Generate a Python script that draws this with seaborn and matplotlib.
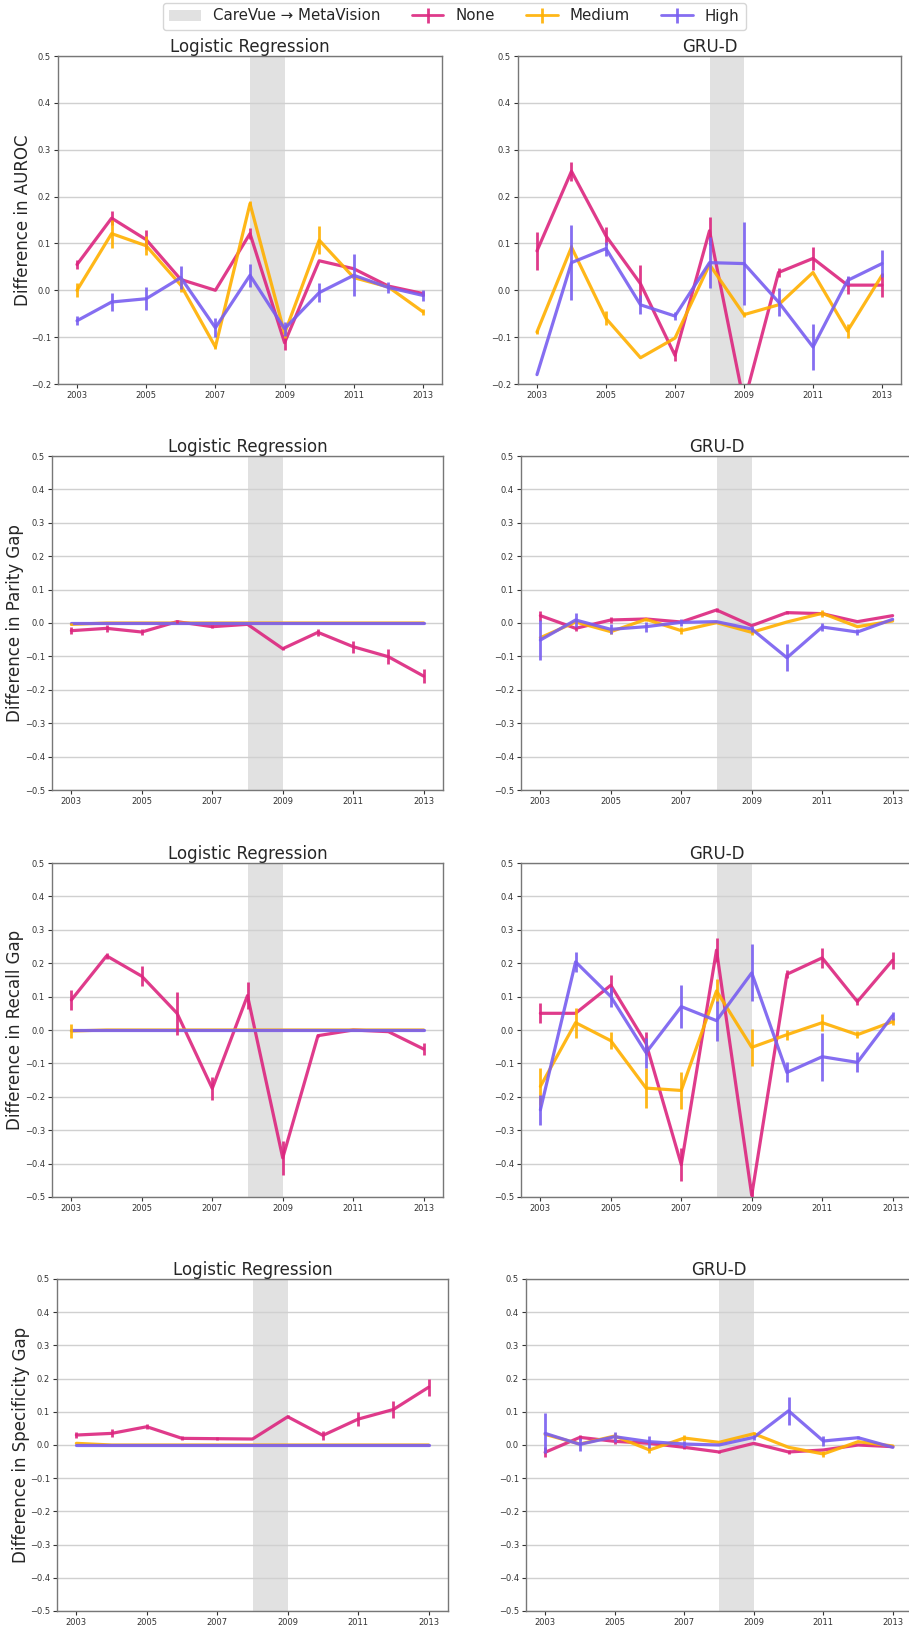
import numpy as np
import pandas as pd
import matplotlib
matplotlib.use("Agg")
import matplotlib.pyplot as plt
import seaborn as sns

sns.set_style("white")
plt.rcParams['font.family'] = ['DejaVu Sans']

years = list(range(2003, 2014))
groups = ["None", "Medium", "High"]
colors = {"None": "#DC267F", "Medium": "#FFB000", "High": "#785EF0"}
models = ["Logistic Regression", "GRU-D"]
metrics = ["Difference in AUROC", "Difference in Parity Gap",
           "Difference in Recall Gap", "Difference in Specificity Gap"]

# ---- AUROC ----
auroc_lr_none = [0.055, 0.154, 0.108, 0.023, 0.0, 0.121, -0.112, 0.063, 0.046, 0.009, -0.007]
auroc_lr_none_err = [0.01, 0.015, 0.02, 0.0, 0.0, 0.012, 0.015, 0.0, 0.0, 0.0, 0.005]
auroc_lr_med = [0.0, 0.121, 0.095, 0.011, -0.121, 0.185, -0.092, 0.107, 0.027, 0.007, -0.046]
auroc_lr_med_err = [0.015, 0.03, 0.02, 0.015, 0.005, 0.005, 0.01, 0.03, 0.0, 0.0, 0.006]
auroc_lr_high = [-0.065, -0.025, -0.018, 0.027, -0.08, 0.032, -0.082, -0.005, 0.032, 0.006, -0.011]
auroc_lr_high_err = [0.01, 0.02, 0.025, 0.025, 0.02, 0.025, 0.015, 0.02, 0.045, 0.012, 0.012]

auroc_gru_none = [0.084, 0.254, 0.116, 0.014, -0.139, 0.127, -0.24, 0.038, 0.068, 0.011, 0.011]
auroc_gru_none_err = [0.04, 0.02, 0.02, 0.04, 0.012, 0.03, 0.0, 0.01, 0.025, 0.018, 0.025]
auroc_gru_med = [-0.089, 0.092, -0.06, -0.144, -0.102, 0.055, -0.052, -0.031, 0.038, -0.087, 0.032]
auroc_gru_med_err = [0.005, 0.005, 0.015, 0.0, 0.0, 0.0, 0.005, 0.0, 0.0, 0.015, 0.0]
auroc_gru_high = [-0.18, 0.059, 0.089, -0.031, -0.055, 0.059, 0.057, -0.025, -0.121, 0.021, 0.057]
auroc_gru_high_err = [0.0, 0.08, 0.015, 0.02, 0.008, 0.055, 0.088, 0.03, 0.05, 0.01, 0.028]

# ---- Parity gap ----
parity_lr_none = [-0.023, -0.016, -0.027, 0.004, -0.011, -0.004, -0.077, -0.028, -0.071, -0.101, -0.159]
parity_lr_none_err = [0.01, 0.01, 0.008, 0.005, 0.005, 0.0, 0.005, 0.01, 0.018, 0.022, 0.022]
parity_lr_med = [-0.004, 0, 0, 0, 0, 0, 0, 0, 0, 0, 0]
parity_lr_med_err = [0.003, 0, 0, 0, 0, 0, 0, 0, 0, 0, 0]
parity_lr_high = [0, 0, 0, 0, 0, 0, 0, 0, 0, 0, 0]
parity_lr_high_err = [0, 0, 0, 0, 0, 0, 0, 0, 0, 0, 0]

parity_gru_none = [0.022, -0.016, 0.009, 0.012, 0.003, 0.039, -0.008, 0.031, 0.028, 0.004, 0.022]
parity_gru_none_err = [0.015, 0.008, 0.008, 0.0, 0.0, 0.005, 0.0, 0.005, 0.005, 0.0, 0.0]
parity_gru_med = [-0.044, 0.003, -0.026, 0.011, -0.023, 0.001, -0.028, 0.003, 0.029, -0.011, 0.006]
parity_gru_med_err = [0.0, 0.0, 0.008, 0.005, 0.01, 0.0, 0.008, 0.0, 0.01, 0.0, 0.0]
parity_gru_high = [-0.051, 0.009, -0.019, -0.011, 0.002, 0.004, -0.018, -0.104, -0.012, -0.027, 0.011]
parity_gru_high_err = [0.06, 0.02, 0.015, 0.015, 0.01, 0.0, 0.008, 0.04, 0.012, 0.008, 0.0]

# ---- Recall gap ----
recall_lr_none = [0.09, 0.222, 0.161, 0.05, -0.175, 0.103, -0.383, -0.017, 0.0, -0.005, -0.057]
recall_lr_none_err = [0.03, 0.01, 0.03, 0.065, 0.035, 0.04, 0.05, 0.005, 0.0, 0.0, 0.017]
recall_lr_med = [-0.003, 0, 0, 0, 0, 0, 0, 0, 0, 0, 0]
recall_lr_med_err = [0.02, 0, 0, 0, 0, 0, 0, 0, 0, 0, 0]
recall_lr_high = [0, 0, 0, 0, 0, 0, 0, 0, 0, 0, 0]
recall_lr_high_err = [0, 0, 0, 0, 0, 0, 0, 0, 0, 0, 0]

recall_gru_none = [0.05, 0.05, 0.134, -0.04, -0.403, 0.239, -0.495, 0.167, 0.216, 0.085, 0.209]
recall_gru_none_err = [0.03, 0.0, 0.03, 0.035, 0.05, 0.035, 0.02, 0.012, 0.03, 0.01, 0.025]
recall_gru_med = [-0.169, 0.022, -0.032, -0.174, -0.181, 0.117, -0.052, -0.014, 0.022, -0.014, 0.025]
recall_gru_med_err = [0.055, 0.045, 0.025, 0.06, 0.055, 0.035, 0.055, 0.015, 0.025, 0.01, 0.01]
recall_gru_high = [-0.239, 0.204, 0.1, -0.068, 0.07, 0.028, 0.171, -0.127, -0.08, -0.097, 0.043]
recall_gru_high_err = [0.045, 0.03, 0.03, 0.045, 0.065, 0.06, 0.085, 0.03, 0.072, 0.03, 0.012]

# ---- Specificity gap ----
spec_lr_none = [0.03, 0.035, 0.055, 0.02, 0.019, 0.018, 0.085, 0.029, 0.078, 0.107, 0.174]
spec_lr_none_err = [0.01, 0.012, 0.007, 0.006, 0.005, 0.0, 0.005, 0.013, 0.02, 0.025, 0.025]
spec_lr_med = [0.005, 0, 0, 0, 0, 0, 0, 0, 0, 0, 0]
spec_lr_med_err = [0, 0, 0, 0, 0, 0, 0, 0, 0, 0, 0]
spec_lr_high = [0, 0, 0, 0, 0, 0, 0, 0, 0, 0, 0]
spec_lr_high_err = [0, 0, 0, 0, 0, 0, 0, 0, 0, 0, 0]

spec_gru_none = [-0.022, 0.023, 0.011, 0.005, -0.007, -0.021, 0.005, -0.021, -0.015, 0.0, -0.005]
spec_gru_none_err = [0.015, 0.008, 0.008, 0.0, 0.005, 0.004, 0.0, 0.006, 0.0, 0.0, 0.0]
spec_gru_med = [0.032, 0.003, 0.027, -0.015, 0.021, 0.008, 0.034, -0.007, -0.027, 0.01, -0.003]
spec_gru_med_err = [0.0, 0.0, 0.008, 0.01, 0.01, 0.0, 0.005, 0.0, 0.01, 0.0, 0.0]
spec_gru_high = [0.035, 0.002, 0.025, 0.01, 0.003, 0.0, 0.023, 0.103, 0.012, 0.022, -0.007]
spec_gru_high_err = [0.06, 0.02, 0.015, 0.018, 0.01, 0.0, 0.008, 0.042, 0.015, 0.005, 0.0]

panels = [
    [(auroc_lr_none, auroc_lr_none_err, auroc_lr_med, auroc_lr_med_err, auroc_lr_high, auroc_lr_high_err),
     (auroc_gru_none, auroc_gru_none_err, auroc_gru_med, auroc_gru_med_err, auroc_gru_high, auroc_gru_high_err)],
    [(parity_lr_none, parity_lr_none_err, parity_lr_med, parity_lr_med_err, parity_lr_high, parity_lr_high_err),
     (parity_gru_none, parity_gru_none_err, parity_gru_med, parity_gru_med_err, parity_gru_high, parity_gru_high_err)],
    [(recall_lr_none, recall_lr_none_err, recall_lr_med, recall_lr_med_err, recall_lr_high, recall_lr_high_err),
     (recall_gru_none, recall_gru_none_err, recall_gru_med, recall_gru_med_err, recall_gru_high, recall_gru_high_err)],
    [(spec_lr_none, spec_lr_none_err, spec_lr_med, spec_lr_med_err, spec_lr_high, spec_lr_high_err),
     (spec_gru_none, spec_gru_none_err, spec_gru_med, spec_gru_med_err, spec_gru_high, spec_gru_high_err)],
]
ylims = [(-0.2, 0.5), (-0.5, 0.5), (-0.5, 0.5), (-0.5, 0.5)]

W, H = 909, 1627
fig = plt.figure(figsize=(W / 100, H / 100), dpi=100)

# axes boxes in pixels: (left, right, top, bottom)
boxes = [
    [(58, 442, 56, 384), (518, 901, 56, 384)],
    [(52, 443, 456, 790), (521, 912, 456, 790)],
    [(52, 443, 863, 1197), (521, 912, 863, 1197)],
    [(57, 448, 1279, 1611), (526, 912, 1279, 1611)],
]
# x position (px) of the right edge of each rotated y-label
ylabel_x_px = [32, 24, 24, 30]

legend_handles = None
for r in range(4):
    for c in range(2):
        l, rr, t, b = boxes[r][c]
        ax = fig.add_axes([l / W, 1 - b / H, (rr - l) / W, (b - t) / H])
        span = ax.axvspan(2008, 2009, color="#bdbdbd", alpha=0.45, lw=0, zorder=0)
        vals = panels[r][c]
        rows = []
        for gi, g in enumerate(groups):
            for yr, v in zip(years, vals[2 * gi]):
                rows.append({"year": yr, "value": v, "group": g})
        df = pd.DataFrame(rows)
        sns.lineplot(data=df, x="year", y="value", hue="group", hue_order=groups,
                     palette=colors, linewidth=2.3, alpha=0.9, legend=False, ax=ax,
                     zorder=3)
        for gi, g in enumerate(groups):
            ax.errorbar(years, vals[2 * gi], yerr=vals[2 * gi + 1], fmt="none",
                        ecolor=colors[g], elinewidth=2.0, alpha=0.9, zorder=4)
        if legend_handles is None:
            legend_handles = [span]
            for g in groups:
                h = ax.errorbar([np.nan], [np.nan], yerr=[0.1], fmt="-", color=colors[g],
                                lw=2.0, elinewidth=2.0, alpha=0.9)
                legend_handles.append(h)
        ax.set_ylim(*ylims[r])
        ax.set_xlim(2002.45, 2013.55)
        ax.set_yticks(np.round(np.arange(ylims[r][0], ylims[r][1] + 0.001, 0.1), 1))
        ax.set_xticks([2003, 2005, 2007, 2009, 2011, 2013])
        ax.tick_params(axis="both", labelsize=6, length=3, width=0.8, colors="#333333",
                       bottom=True, left=True, pad=2)
        ax.yaxis.grid(True, color="#d0d0d0", lw=1.0)
        ax.xaxis.grid(False)
        ax.set_axisbelow(True)
        for s in ax.spines.values():
            s.set_color("#777777")
            s.set_linewidth(1.0)
        ax.set_xlabel("")
        if c == 0:
            ax.set_ylabel(metrics[r], fontsize=12)
            ax.yaxis.set_label_coords((ylabel_x_px[r] - l) / (rr - l), 0.5)
        else:
            ax.set_ylabel("")
        ax.set_title(models[c], fontsize=12, pad=3)

fig.legend(legend_handles, ["CareVue \u2192 MetaVision", "None", "Medium", "High"],
           loc="center", bbox_to_anchor=(0.5, 1 - 16 / H), ncol=4, fontsize=10.8,
           frameon=True, handlelength=2.1, columnspacing=2.1, borderpad=0.4)

fig.savefig("out.png", dpi=100)
